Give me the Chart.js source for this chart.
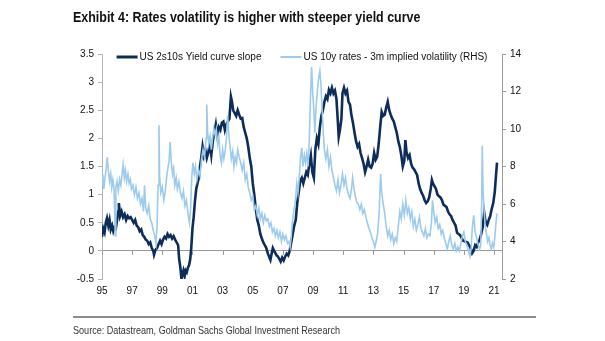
<!DOCTYPE html>
<html>
<head>
<meta charset="utf-8">
<script src="https://cdn.jsdelivr.net/npm/chart.js@4.4.1/dist/chart.umd.min.js"></script>
<style>
  body { margin: 0; background: #fff; }
  #wrap { position: relative; width: 605px; height: 341px; }
  #title { position: absolute; left: 73px; top: 8px; font: bold 15px "Liberation Sans", Arial, sans-serif; color: #111; white-space: nowrap; transform-origin: 0 0; }
  #rule { position: absolute; left: 73px; top: 316px; width: 463px; height: 2px; background: #8c8c8c; }
  #source { position: absolute; left: 73px; top: 324px; font: 11px "Liberation Sans", Arial, sans-serif; color: #333; white-space: nowrap; transform-origin: 0 0; }
  canvas { position: absolute; left: 0; top: 0; }
</style>
</head>
<body>
<div id="wrap">
  <canvas id="chart" width="605" height="341"></canvas>
  <div id="title">Exhibit 4: Rates volatility is higher with steeper yield curve</div>
  <div id="rule"></div>
  <div id="source">Source: Datastream, Goldman Sachs Global Investment Research</div>
</div>
<script>
// Datos
const yearTicks = [1995, 1997, 1999, 2001, 2003, 2005, 2007, 2009, 2011, 2013, 2015, 2017, 2019, 2021];
const leftTicks = [-0.5, 0, 0.5, 1, 1.5, 2, 2.5, 3, 3.5];
const rightTicks = [2, 4, 6, 8, 10, 12, 14];

// US 2s10s Yield curve slope (eje izquierdo)
const slopeDates = [
  1995.00, 1995.08, 1995.17, 1995.25, 1995.33, 1995.42, 1995.50, 1995.58, 1995.67, 1995.75, 1995.83, 1995.92,
  1996.00, 1996.08, 1996.12, 1996.20, 1996.30, 1996.40, 1996.50, 1996.60, 1996.70, 1996.80, 1996.90,
  1997.00, 1997.10, 1997.20, 1997.30, 1997.40, 1997.50, 1997.60, 1997.70, 1997.80, 1997.90,
  1998.00, 1998.10, 1998.20, 1998.30, 1998.40, 1998.45, 1998.55, 1998.65, 1998.75, 1998.85, 1998.95,
  1999.05, 1999.15, 1999.25, 1999.35, 1999.45, 1999.55, 1999.65, 1999.75, 1999.85, 1999.95,
  2000.05, 2000.12, 2000.20, 2000.27, 2000.33, 2000.40, 2000.48, 2000.55, 2000.62, 2000.70, 2000.78, 2000.85, 2000.92,
  2001.00, 2001.08, 2001.17, 2001.25, 2001.33, 2001.42, 2001.50, 2001.58, 2001.67, 2001.75, 2001.85, 2001.95,
  2002.05, 2002.15, 2002.25, 2002.35, 2002.45, 2002.55, 2002.65, 2002.75, 2002.85, 2002.95,
  2003.05, 2003.15, 2003.25, 2003.35, 2003.45, 2003.55, 2003.62, 2003.70, 2003.80, 2003.90,
  2004.00, 2004.10, 2004.20, 2004.30, 2004.40, 2004.50, 2004.60, 2004.70, 2004.80, 2004.90,
  2005.00, 2005.10, 2005.20, 2005.30, 2005.40, 2005.50, 2005.60, 2005.70, 2005.80, 2005.90,
  2006.00, 2006.08, 2006.17, 2006.25, 2006.33, 2006.42, 2006.50, 2006.58, 2006.67, 2006.75, 2006.85, 2006.95,
  2007.05, 2007.15, 2007.25, 2007.35, 2007.45, 2007.55, 2007.65, 2007.75, 2007.85, 2007.95,
  2008.05, 2008.15, 2008.25, 2008.35, 2008.45, 2008.55, 2008.65, 2008.75, 2008.85, 2008.95,
  2009.05, 2009.15, 2009.25, 2009.35, 2009.45, 2009.55, 2009.65, 2009.75, 2009.85, 2009.95,
  2010.05, 2010.15, 2010.25, 2010.35, 2010.45, 2010.55, 2010.62, 2010.70, 2010.78, 2010.88, 2010.95,
  2011.05, 2011.15, 2011.25, 2011.35, 2011.45, 2011.55, 2011.65, 2011.75, 2011.85, 2011.95,
  2012.05, 2012.15, 2012.25, 2012.35, 2012.45, 2012.55, 2012.65, 2012.75, 2012.85, 2012.95,
  2013.05, 2013.15, 2013.25, 2013.35, 2013.45, 2013.55, 2013.65, 2013.75, 2013.85, 2013.95,
  2014.05, 2014.15, 2014.25, 2014.35, 2014.45, 2014.55, 2014.65, 2014.75, 2014.85, 2014.95,
  2015.05, 2015.12, 2015.20, 2015.30, 2015.40, 2015.50, 2015.60, 2015.70, 2015.80, 2015.90,
  2016.00, 2016.10, 2016.20, 2016.30, 2016.40, 2016.50, 2016.60, 2016.70, 2016.80, 2016.88, 2016.95,
  2017.05, 2017.15, 2017.25, 2017.35, 2017.45, 2017.55, 2017.65, 2017.75, 2017.85, 2017.95,
  2018.05, 2018.15, 2018.25, 2018.35, 2018.45, 2018.55, 2018.65, 2018.75, 2018.85, 2018.95,
  2019.05, 2019.15, 2019.25, 2019.35, 2019.45, 2019.55, 2019.65, 2019.75, 2019.85, 2019.95,
  2020.05, 2020.15, 2020.25, 2020.35, 2020.45, 2020.55, 2020.65, 2020.75, 2020.85, 2020.95,
  2021.05, 2021.12, 2021.20
];
const slopeValues = [
  0.25, 0.40, 0.33, 0.50, 0.58, 0.45, 0.55, 0.38, 0.45, 0.35, 0.42, 0.40,
  0.55, 0.70, 0.85, 0.62, 0.70, 0.60, 0.65, 0.55, 0.62, 0.58, 0.60,
  0.55, 0.50, 0.55, 0.45, 0.42, 0.35, 0.38, 0.28, 0.25, 0.20,
  0.18, 0.12, 0.15, 0.05, 0.00, -0.07, 0.02, 0.05, 0.12, 0.18, 0.12,
  0.20, 0.25, 0.22, 0.30, 0.25, 0.28, 0.22, 0.26, 0.20, 0.15,
  0.10, -0.15, -0.30, -0.50, -0.42, -0.35, -0.45, -0.35, -0.38, -0.30, -0.25, -0.15, 0.05,
  0.40, 0.60, 0.90, 1.10, 1.20, 1.30, 1.50, 1.65, 1.85, 1.70, 1.80, 1.65,
  1.75, 1.90, 1.70, 1.95, 2.10, 2.25, 2.05, 2.20, 2.15, 2.28,
  2.30, 2.15, 2.25, 2.30, 2.35, 2.74, 2.65, 2.50, 2.45, 2.40,
  2.50, 2.42, 2.35, 2.36, 2.20, 2.10, 2.00, 1.85, 1.65, 1.50,
  1.20, 1.00, 0.75, 0.55, 0.45, 0.30, 0.22, 0.15, 0.10, 0.05,
  -0.05, -0.10, -0.16, -0.05, 0.05, 0.00, -0.04, -0.08, -0.10, -0.14, -0.19, -0.12,
  -0.17, -0.10, -0.05, -0.08, 0.00, 0.15, 0.30, 0.45, 0.55, 0.85,
  1.05, 1.25, 1.30, 1.20, 1.30, 1.40, 1.35, 1.55, 1.70, 1.40,
  1.30, 1.80, 2.00, 1.90, 2.20, 2.40, 2.50, 2.65, 2.75, 2.70,
  2.86, 2.80, 2.90, 2.80, 2.85, 2.70, 2.40, 2.03, 2.15, 2.35, 2.80,
  2.90, 2.80, 2.85, 2.65, 2.60, 2.40, 2.27, 2.10, 1.95, 1.85,
  1.90, 1.74, 1.65, 1.55, 1.40, 1.50, 1.62, 1.50, 1.48, 1.55,
  1.74, 1.62, 1.67, 1.90, 2.20, 2.47, 2.40, 2.42, 2.55, 2.65,
  2.50, 2.42, 2.35, 2.30, 2.20, 2.10, 1.95, 1.85, 1.70, 1.50,
  1.60, 1.97, 1.75, 1.65, 1.70, 1.55, 1.48, 1.45, 1.40, 1.35,
  1.20, 1.10, 1.03, 0.98, 0.90, 0.85, 0.88, 0.95, 1.10, 1.26, 1.20,
  1.15, 1.10, 1.00, 0.97, 0.95, 0.90, 0.82, 0.80, 0.78, 0.70,
  0.65, 0.62, 0.55, 0.50, 0.45, 0.32, 0.30, 0.28, 0.23, 0.18,
  0.17, 0.16, 0.15, 0.10, 0.05, -0.04, 0.00, 0.10, 0.07, 0.15,
  0.20, 0.30, 0.43, 0.68, 0.50, 0.46, 0.55, 0.62, 0.75, 0.85,
  1.05, 1.30, 1.57
];

// US 10y rates - 3m implied volatility (eje derecho)
const volDates = [
  1995.00, 1995.05, 1995.12, 1995.20, 1995.28, 1995.35, 1995.42, 1995.50, 1995.58, 1995.65, 1995.72, 1995.80, 1995.88, 1995.92,
  1996.00, 1996.08, 1996.17, 1996.25, 1996.33, 1996.40, 1996.48, 1996.55, 1996.63, 1996.72, 1996.80, 1996.88, 1996.95,
  1997.05, 1997.15, 1997.25, 1997.35, 1997.45, 1997.55, 1997.65, 1997.75, 1997.82, 1997.90,
  1998.00, 1998.10, 1998.20, 1998.30, 1998.40, 1998.50, 1998.58, 1998.65, 1998.72, 1998.78, 1998.82, 1998.90,
  1999.00, 1999.10, 1999.20, 1999.30, 1999.38, 1999.45, 1999.52, 1999.60, 1999.68, 1999.75, 1999.83, 1999.92,
  2000.00, 2000.10, 2000.20, 2000.30, 2000.40, 2000.50, 2000.60, 2000.70, 2000.80, 2000.88, 2000.95,
  2001.03, 2001.12, 2001.20, 2001.30, 2001.40, 2001.50, 2001.60, 2001.70, 2001.80, 2001.90, 2001.95,
  2002.00, 2002.08, 2002.17, 2002.25, 2002.33, 2002.42, 2002.50, 2002.58, 2002.67, 2002.75, 2002.83, 2002.92,
  2003.00, 2003.08, 2003.17, 2003.25, 2003.33, 2003.42, 2003.50, 2003.58, 2003.67, 2003.75, 2003.83, 2003.92,
  2004.00, 2004.10, 2004.20, 2004.30, 2004.40, 2004.50, 2004.60, 2004.70, 2004.80, 2004.90,
  2005.00, 2005.10, 2005.20, 2005.30, 2005.40, 2005.50, 2005.60, 2005.70, 2005.80, 2005.90,
  2006.00, 2006.10, 2006.20, 2006.30, 2006.40, 2006.50, 2006.60, 2006.70, 2006.80, 2006.90,
  2007.00, 2007.10, 2007.20, 2007.30, 2007.40, 2007.48, 2007.55, 2007.62, 2007.70, 2007.78, 2007.85, 2007.92,
  2008.00, 2008.08, 2008.17, 2008.25, 2008.33, 2008.42, 2008.50, 2008.58, 2008.67, 2008.75, 2008.82, 2008.90, 2008.97,
  2009.05, 2009.12, 2009.20, 2009.28, 2009.35, 2009.45, 2009.52, 2009.60, 2009.68, 2009.75, 2009.85, 2009.95,
  2010.05, 2010.15, 2010.25, 2010.35, 2010.45, 2010.55, 2010.65, 2010.75, 2010.85, 2010.95,
  2011.05, 2011.15, 2011.25, 2011.35, 2011.45, 2011.55, 2011.62, 2011.70, 2011.80, 2011.90,
  2012.00, 2012.10, 2012.20, 2012.30, 2012.40, 2012.50, 2012.60, 2012.70, 2012.80, 2012.90,
  2013.00, 2013.10, 2013.18, 2013.28, 2013.38, 2013.48, 2013.55, 2013.65, 2013.75, 2013.85, 2013.95,
  2014.05, 2014.15, 2014.25, 2014.35, 2014.45, 2014.55, 2014.65, 2014.75, 2014.85, 2014.95,
  2015.05, 2015.15, 2015.25, 2015.35, 2015.45, 2015.55, 2015.65, 2015.75, 2015.85, 2015.95,
  2016.05, 2016.15, 2016.25, 2016.35, 2016.45, 2016.55, 2016.65, 2016.75, 2016.85, 2016.92,
  2017.00, 2017.10, 2017.20, 2017.30, 2017.40, 2017.50, 2017.60, 2017.70, 2017.80, 2017.90,
  2018.00, 2018.10, 2018.20, 2018.30, 2018.40, 2018.50, 2018.60, 2018.70, 2018.80, 2018.90,
  2019.00, 2019.10, 2019.20, 2019.30, 2019.40, 2019.48, 2019.55, 2019.65, 2019.75, 2019.85, 2019.95,
  2020.05, 2020.12, 2020.18, 2020.22, 2020.27, 2020.35, 2020.42, 2020.50, 2020.58, 2020.66, 2020.74, 2020.82, 2020.90, 2020.98,
  2021.05, 2021.12, 2021.20
];
const volValues = [
  7.0, 7.6, 6.8, 7.4, 7.9, 8.5, 7.8, 7.2, 7.6, 6.9, 7.3, 6.8, 4.3, 6.9,
  7.2, 6.7, 7.3, 7.0, 7.6, 8.1, 7.4, 7.8, 7.2, 7.6, 7.1, 7.3, 6.8,
  7.0, 6.5, 6.9, 6.3, 6.6, 6.0, 6.3, 5.6, 7.0, 5.8,
  5.5, 5.9, 5.2, 5.0, 4.6, 4.3, 3.9, 4.8, 7.0, 10.2, 7.5, 6.6,
  6.9, 6.2, 6.7, 7.5, 8.0, 8.3, 9.3, 8.2, 7.6, 7.9, 7.0, 7.4,
  6.8, 7.2, 6.6, 6.3, 6.7, 5.9, 6.2, 5.5, 5.0, 5.8, 7.4,
  8.2, 7.6, 8.0, 7.3, 7.8, 7.5, 8.4, 8.9, 8.5, 9.5, 11.3,
  9.9, 9.2, 9.6, 8.9, 9.5, 10.0, 9.7, 10.0, 9.2, 9.6, 8.6, 8.2,
  8.9, 8.4, 8.8, 9.5, 10.7, 9.6, 9.0, 8.4, 8.8, 8.0, 8.5, 8.2,
  8.9, 8.5, 8.2, 7.8, 8.2, 7.3, 7.6, 6.9, 6.6, 6.2,
  6.4, 5.7, 5.9, 5.4, 5.8, 5.2, 5.5, 5.0, 5.4, 5.1,
  5.2, 4.8, 5.0, 4.5, 4.7, 4.3, 4.6, 4.2, 4.5, 4.0,
  4.4, 4.1, 4.3, 3.9, 4.0, 3.7, 4.2, 5.0, 5.5, 5.9, 6.4, 7.1,
  6.6, 7.4, 8.5, 9.0, 8.0, 8.6, 8.2, 8.7, 8.0, 9.5, 11.5, 13.3, 12.0,
  11.0, 9.8, 11.2, 12.0, 12.6, 13.1, 12.4, 11.0, 9.8, 8.9, 8.4, 8.9,
  8.0, 8.5, 7.8, 7.4, 7.0, 6.7, 7.3, 6.6, 7.0, 7.6,
  7.0, 7.4, 6.8, 6.5, 6.3, 6.8, 7.4, 6.9, 6.4, 6.1,
  6.0, 5.7, 6.0, 5.5, 5.7, 5.3, 5.0, 4.7, 4.5, 4.2,
  4.0, 3.7, 4.0, 4.4, 5.5, 7.6, 6.6, 6.0, 5.5, 4.8, 4.3,
  4.6, 4.1, 4.4, 3.9, 4.2, 4.0, 4.8, 5.6, 5.2, 6.0,
  5.4, 6.2, 5.5, 5.8, 5.2, 5.6, 4.8, 5.2, 4.6, 4.9,
  5.3, 4.7, 4.5, 4.3, 4.7, 4.2, 4.4, 4.3, 5.0, 6.2,
  5.6, 5.0, 5.3, 4.7, 4.9, 4.4, 4.6, 4.2, 3.9, 3.6,
  4.0, 4.3, 3.8, 3.6, 3.9, 3.5, 3.7, 3.5, 3.9, 4.3,
  4.5, 4.0, 3.8, 3.5, 3.2, 3.6, 4.6, 5.4, 4.5, 4.2, 3.8,
  3.6, 3.8, 6.0, 9.1, 6.8, 5.6, 4.8, 4.4, 4.0, 4.2, 3.8, 3.6, 3.9, 3.7,
  4.2, 4.9, 5.5
];

const darkBlue = "#0c2c5a";
const lightBlue = "#9ccbee";
const axisGrey = "#9a9a9a";
const labelFont = "10px 'Liberation Sans', Arial, sans-serif";

// Ajustar título y fuente al ancho del original (tipografía estrecha)
function fitWidth(id, target) {
  const el = document.getElementById(id);
  el.style.transform = "scaleX(" + (target / el.offsetWidth) + ")";
}
fitWidth("title", 347);
fitWidth("source", 267);

// Marcas pequeñas del eje X sobre la línea de cero
const zeroTicks = {
  id: "zeroTicks",
  afterDraw(chart) {
    const ctx = chart.ctx;
    const x = chart.scales.x;
    const y0 = chart.scales.y.getPixelForValue(0);
    ctx.save();
    ctx.strokeStyle = axisGrey;
    ctx.lineWidth = 1;
    yearTicks.forEach(v => {
      const px = Math.round(x.getPixelForValue(v)) + 0.5;
      ctx.beginPath();
      ctx.moveTo(px, y0);
      ctx.lineTo(px, y0 + 4);
      ctx.stroke();
    });
    ctx.restore();
  }
};

// Leyenda en una línea dentro del área del gráfico
const inlineLegend = {
  id: "inlineLegend",
  afterDraw(chart) {
    const ctx = chart.ctx;
    const area = chart.chartArea;
    const sets = chart.data.datasets;
    const lineLen = 21, gap = 2, between = 19, y = area.top + 3;
    ctx.save();
    ctx.font = labelFont;
    ctx.textBaseline = "middle";
    ctx.fillStyle = "#111";
    const widths = sets.map(ds => ctx.measureText(ds.label).width);
    const total = widths.reduce((a, w) => a + lineLen + gap + w, 0) + between * (sets.length - 1);
    let x = (area.left + area.right) / 2 - total / 2;
    sets.forEach((ds, i) => {
      ctx.strokeStyle = ds.borderColor;
      ctx.lineWidth = i === 0 ? 3 : 2;
      ctx.beginPath();
      ctx.moveTo(x, y);
      ctx.lineTo(x + lineLen, y);
      ctx.stroke();
      ctx.fillText(ds.label, x + lineLen + gap, y);
      x += lineLen + gap + widths[i] + between;
    });
    ctx.restore();
  }
};

const ctx = document.getElementById("chart").getContext("2d");
new Chart(ctx, {
  type: "line",
  data: {
    datasets: [{
      label: "US 2s10s Yield curve slope",
      data: slopeDates.map((d, i) => ({ x: d, y: slopeValues[i] })),
      yAxisID: "y",
      borderColor: darkBlue,
      backgroundColor: darkBlue,
      borderWidth: 2.6,
      pointRadius: 0,
      tension: 0,
      order: 2
    }, {
      label: "US 10y rates - 3m implied volatility (RHS)",
      data: volDates.map((d, i) => ({ x: d, y: volValues[i] })),
      yAxisID: "y1",
      borderColor: lightBlue,
      backgroundColor: lightBlue,
      borderWidth: 1.6,
      pointRadius: 0,
      tension: 0,
      order: 1
    }]
  },
  options: {
    responsive: false,
    animation: false,
    layout: { padding: { left: 0, right: 0, top: 54, bottom: 42 } },
    plugins: {
      tooltip: { enabled: false },
      legend: { display: false }
    },
    scales: {
      x: {
        type: "linear",
        min: 1995,
        max: 2021.53,
        afterBuildTicks: s => { s.ticks = yearTicks.map(v => ({ value: v })); },
        afterFit: s => { s.height = 20; },
        grid: { display: false, drawTicks: false },
        border: { display: false },
        ticks: {
          autoSkip: false,
          maxRotation: 0,
          padding: 6,
          color: "#111",
          font: { family: "Liberation Sans, Arial, sans-serif", size: 10 },
          callback: v => String(v % 100).padStart(2, "0")
        }
      },
      y: {
        position: "left",
        min: -0.5,
        max: 3.5,
        afterBuildTicks: s => { s.ticks = leftTicks.map(v => ({ value: v })); },
        afterFit: s => { s.width = 102; },
        border: { display: true, color: "#b5b5b5" },
        grid: {
          drawOnChartArea: true,
          color: c => (c.tick && c.tick.value === 0) ? axisGrey : "rgba(0,0,0,0)",
          tickColor: "#b5b5b5",
          tickLength: 4
        },
        ticks: {
          padding: 4,
          color: "#111",
          font: { family: "Liberation Sans, Arial, sans-serif", size: 10 },
          callback: v => String(v)
        }
      },
      y1: {
        position: "right",
        min: 2,
        max: 14,
        afterBuildTicks: s => { s.ticks = rightTicks.map(v => ({ value: v })); },
        afterFit: s => { s.width = 103; },
        border: { display: true, color: axisGrey },
        grid: { drawOnChartArea: false, tickColor: axisGrey, tickLength: 4 },
        ticks: {
          padding: 4,
          color: "#111",
          font: { family: "Liberation Sans, Arial, sans-serif", size: 10 },
          callback: v => String(v)
        }
      }
    }
  },
  plugins: [zeroTicks, inlineLegend]
});
</script>
</body>
</html>
